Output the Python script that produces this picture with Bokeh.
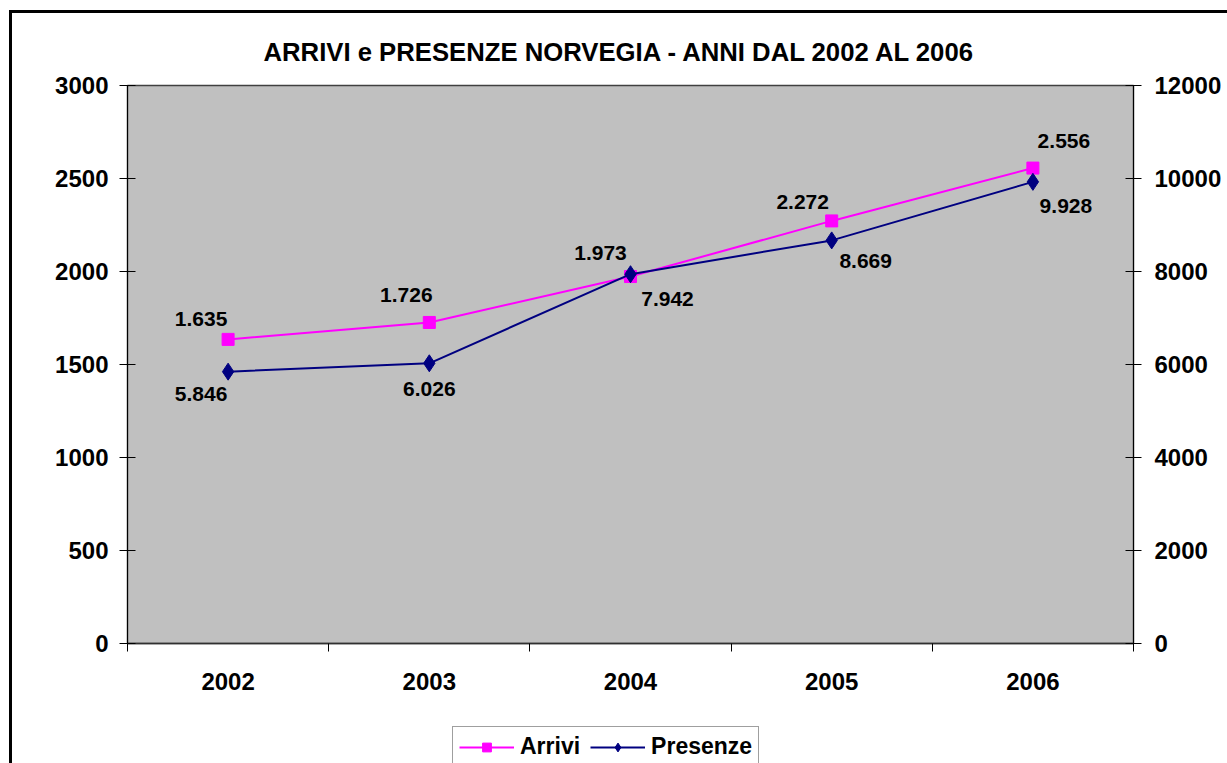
from bokeh.plotting import figure
from bokeh.models import (ColumnDataSource, Range1d, LinearAxis, FixedTicker, SingleIntervalTicker,
                          Legend, LegendItem)
from bokeh.core.properties import value
from bokeh.embed import file_html
from bokeh.resources import INLINE

# ---- data ----
years = [2002, 2003, 2004, 2005, 2006]
arrivi = [1635, 1726, 1973, 2272, 2556]
presenze = [5846, 6026, 7942, 8669, 9928]
title_text = "ARRIVI e PRESENZE NORVEGIA - ANNI DAL 2002 AL 2006"
series_names = ["Arrivi", "Presenze"]

# label offsets (pixels, style only)
arr_dx = [-27, -23, -30, -29, 31]
arr_dy = [-20, -27, -24, -19, -27]
pre_dx = [-27, 0, 37, 34, 33]
pre_dy = [22, 26, 25, 21, 24]

def it_fmt(v):
    return f"{v:,}".replace(",", ".")

FONT = "Liberation Sans"
MAGENTA = "#FF00FF"
NAVY = "#000080"

src_a = ColumnDataSource(dict(x=years, y=arrivi, lab=[it_fmt(v) for v in arrivi], dx=arr_dx, dy=arr_dy))
src_p = ColumnDataSource(dict(x=years, y=presenze, lab=[it_fmt(v) for v in presenze], dx=pre_dx, dy=pre_dy))

x_lo = years[0] - 0.5
x_hi = years[-1] + 0.5
bounds = [y - 0.5 for y in years] + [x_hi]

p = figure(frame_width=1006, frame_height=558, x_range=Range1d(x_lo, x_hi), y_range=Range1d(0, 3000),
           output_backend="svg", toolbar_location=None, x_axis_location=None, y_axis_location=None,
           min_border_left=115, min_border_right=94, min_border_top=72, min_border_bottom=72)
p.styles = {"margin-left": "9px", "margin-top": "10px",
            "border-left": "3px solid black", "border-top": "3px solid black"}
p.extra_y_ranges = {"right": Range1d(0, 12000)}

p.background_fill_color = "#C0C0C0"
p.border_fill_color = "white"
p.outline_line_color = "#404040"
p.outline_line_width = 1.5
p.grid.visible = False

p.title.text = title_text
p.title.text_font = FONT
p.title.text_font_style = "bold"
p.title.text_font_size = "25.7px"
p.title.text_color = "black"
p.title.align = "left"
p.title.offset = 136
p.title.standoff = 40

def style_axis(ax):
    ax.major_label_text_font = FONT
    ax.major_label_text_font_style = "bold"
    ax.major_label_text_font_size = "24px"
    ax.major_label_text_color = "black"
    ax.axis_line_color = "black"
    ax.major_tick_line_color = "black"
    ax.minor_tick_line_color = None

yl = LinearAxis(ticker=SingleIntervalTicker(interval=500))
style_axis(yl)
yl.major_tick_in = 8
yl.major_tick_out = 8
yl.major_label_standoff = 11
p.add_layout(yl, "left")

yr = LinearAxis(y_range_name="right", ticker=SingleIntervalTicker(interval=2000))
style_axis(yr)
yr.major_tick_in = 8
yr.major_tick_out = 8
yr.major_label_standoff = 13
p.add_layout(yr, "right")

# x axis: year labels at category centres, tick marks at category boundaries
xc = LinearAxis(ticker=FixedTicker(ticks=years, minor_ticks=bounds))
style_axis(xc)
xc.axis_line_color = "#303030"
xc.axis_line_width = 1.5
xc.major_tick_line_color = None
xc.major_tick_in = 0
xc.major_tick_out = 8
xc.minor_tick_line_color = "black"
xc.minor_tick_in = 0
xc.minor_tick_out = 8
xc.major_label_standoff = 21
p.add_layout(xc, "below")

la = p.line("x", "y", source=src_a, line_color=MAGENTA, line_width=2)
sa = p.scatter("x", "y", source=src_a, marker="square", size=12, fill_color=MAGENTA, line_color=MAGENTA)
lp = p.line("x", "y", source=src_p, y_range_name="right", line_color=NAVY, line_width=2)
sp = p.scatter("x", "y", source=src_p, y_range_name="right", marker="diamond", size=17,
               fill_color=NAVY, line_color=NAVY)

for src, rng in ((src_a, "default"), (src_p, "right")):
    p.text("x", "y", text="lab", source=src, y_range_name=rng, x_offset="dx", y_offset="dy",
           text_font=value(FONT), text_font_style="bold", text_font_size=value("21px"),
           text_align="center", text_baseline="middle", text_color="black")

# ---- legend strip below the chart (a second canvas whose frame holds only the legend) ----
q = figure(width=1215, height=48, x_range=Range1d(0, 1), y_range=Range1d(0, 1), title=None,
           output_backend="svg", toolbar_location=None, x_axis_location=None, y_axis_location=None,
           min_border=0)
q.styles = {"margin-left": "9px", "border-left": "3px solid black"}
q.outline_line_color = None
q.background_fill_color = "white"
q.border_fill_color = "white"
q.grid.visible = False

# same series, drawn on this strip's ranges (they fall outside it; only the legend swatches show)
qa_l = q.line(years, arrivi, line_color=MAGENTA, line_width=2)
qa_s = q.scatter(years, arrivi, marker="square", size=12, fill_color=MAGENTA, line_color=MAGENTA)
qp_l = q.line(years, presenze, line_color=NAVY, line_width=2)
qp_s = q.scatter(years, presenze, marker="diamond", size=17, fill_color=NAVY, line_color=NAVY)

legend = Legend(items=[LegendItem(label=series_names[0], renderers=[qa_l, qa_s]),
                       LegendItem(label=series_names[1], renderers=[qp_l, qp_s])],
                orientation="horizontal", location=(440, -4))
legend.label_text_font = FONT
legend.label_text_font_style = "bold"
legend.label_text_font_size = "23px"
legend.label_text_color = "black"
legend.glyph_width = 55
legend.glyph_height = 22
legend.label_height = 22
legend.label_standoff = 6
legend.spacing = 10
legend.padding = 6
legend.margin = 0
legend.border_line_color = "#404040"
legend.border_line_width = 1
legend.background_fill_color = "white"
legend.background_fill_alpha = 1
q.add_layout(legend, "center")

open("out.html", "w").write(file_html([p, q], INLINE))
